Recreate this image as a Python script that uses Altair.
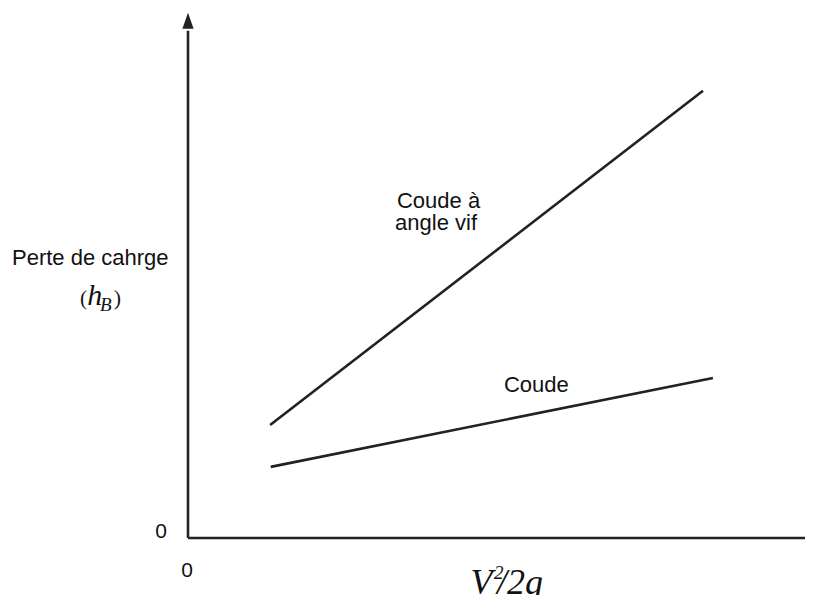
import altair as alt
import pandas as pd

# ---- data (abstract units, 0..100 on both axes) ----
series = ["Coude à angle vif", "Coude à angle vif", "Coude", "Coude"]
line_x = [13.2, 82.8, 13.3, 84.4]
line_y = [21.6, 85.5, 13.6, 30.6]

axis_x = [0, 0, 0, 100]
axis_y = [0, 97, 0, 0]
axis_id = ["y", "y", "x", "x"]

XS = alt.Scale(domain=[0, 99.2], nice=False, zero=False)
YS = alt.Scale(domain=[0, 100], nice=False, zero=False)
INK = "#222222"

lines_df = pd.DataFrame({"serie": series, "x": line_x, "y": line_y})
axes_df = pd.DataFrame({"id": axis_id, "x": axis_x, "y": axis_y})

axes = alt.Chart(axes_df).mark_line(color=INK, strokeWidth=2.6).encode(
    x=alt.X("x:Q", scale=XS, axis=None),
    y=alt.Y("y:Q", scale=YS, axis=None),
    detail="id:N",
)

arrow_up = alt.Chart(pd.DataFrame({"x": [0], "y": [98.9]})).mark_point(
    shape="M0,-1L0.7,1L-0.7,1Z", size=256, filled=True, color=INK, opacity=1
).encode(x=alt.X("x:Q", scale=XS), y=alt.Y("y:Q", scale=YS))

arrow_right = alt.Chart(pd.DataFrame({"x": [101.45], "y": [0]})).mark_point(
    shape="M1,0L-1,0.7L-1,-0.7Z", size=256, filled=True, color=INK, opacity=1
).encode(x=alt.X("x:Q", scale=XS), y=alt.Y("y:Q", scale=YS))

lines = alt.Chart(lines_df).mark_line(color=INK, strokeWidth=2.6).encode(
    x=alt.X("x:Q", scale=XS),
    y=alt.Y("y:Q", scale=YS),
    detail="serie:N",
)


def texts(labels, xs, ys, font, size, style="normal", align="left"):
    df = pd.DataFrame({"t": labels, "x": xs, "y": ys})
    return alt.Chart(df).mark_text(
        font=font, fontSize=size, fontStyle=style, align=align,
        baseline="alphabetic", color="#111111"
    ).encode(x=alt.X("x:Q", scale=XS), y=alt.Y("y:Q", scale=YS), text="t:N")


sans_labels = ["Perte de cahrge", "Coude à", "angle vif", "Coude"]
sans_x = [-28.3, 33.6, 33.3, 50.8]
sans_y = [52.2, 63.1, 58.8, 27.9]

zero_labels = ["0", "0"]
zero_x = [-4.34, -0.16]
zero_y = [0.0, -7.46]

t_sans = texts(sans_labels, sans_x, sans_y, "Liberation Sans", 22)
t_zero = texts(zero_labels, zero_x, zero_y, "Liberation Sans", 21, align="center")

# y label (h_B)
t_paren = texts(["(", ")"], [-17.36, -11.9], [44.55, 44.55], "Liberation Serif", 21)
t_h = texts(["h"], [-16.2], [44.55], "Liberation Serif", 30, style="italic")
t_B = texts(["B"], [-14.15], [43.4], "Liberation Serif", 19, style="italic")

# x label V^2/2g
t_V = texts(["V", "/2g"], [45.4, 49.68], [-10.7, -10.7], "Liberation Serif", 36, style="italic")
t_sup = texts(["2"], [49.2], [-7.8], "Liberation Serif", 19, style="italic")

chart = alt.layer(
    axes, arrow_up, arrow_right, lines,
    t_sans, t_zero, t_paren, t_h, t_B, t_V, t_sup
).properties(
    width=617, height=523,
    autosize=alt.AutoSizeParams(type="none"),
    padding={"left": 180, "top": 7, "right": 0, "bottom": 57},
).configure_view(stroke=None)

chart.save("out.html", embed_options={"renderer": "svg", "actions": False})
